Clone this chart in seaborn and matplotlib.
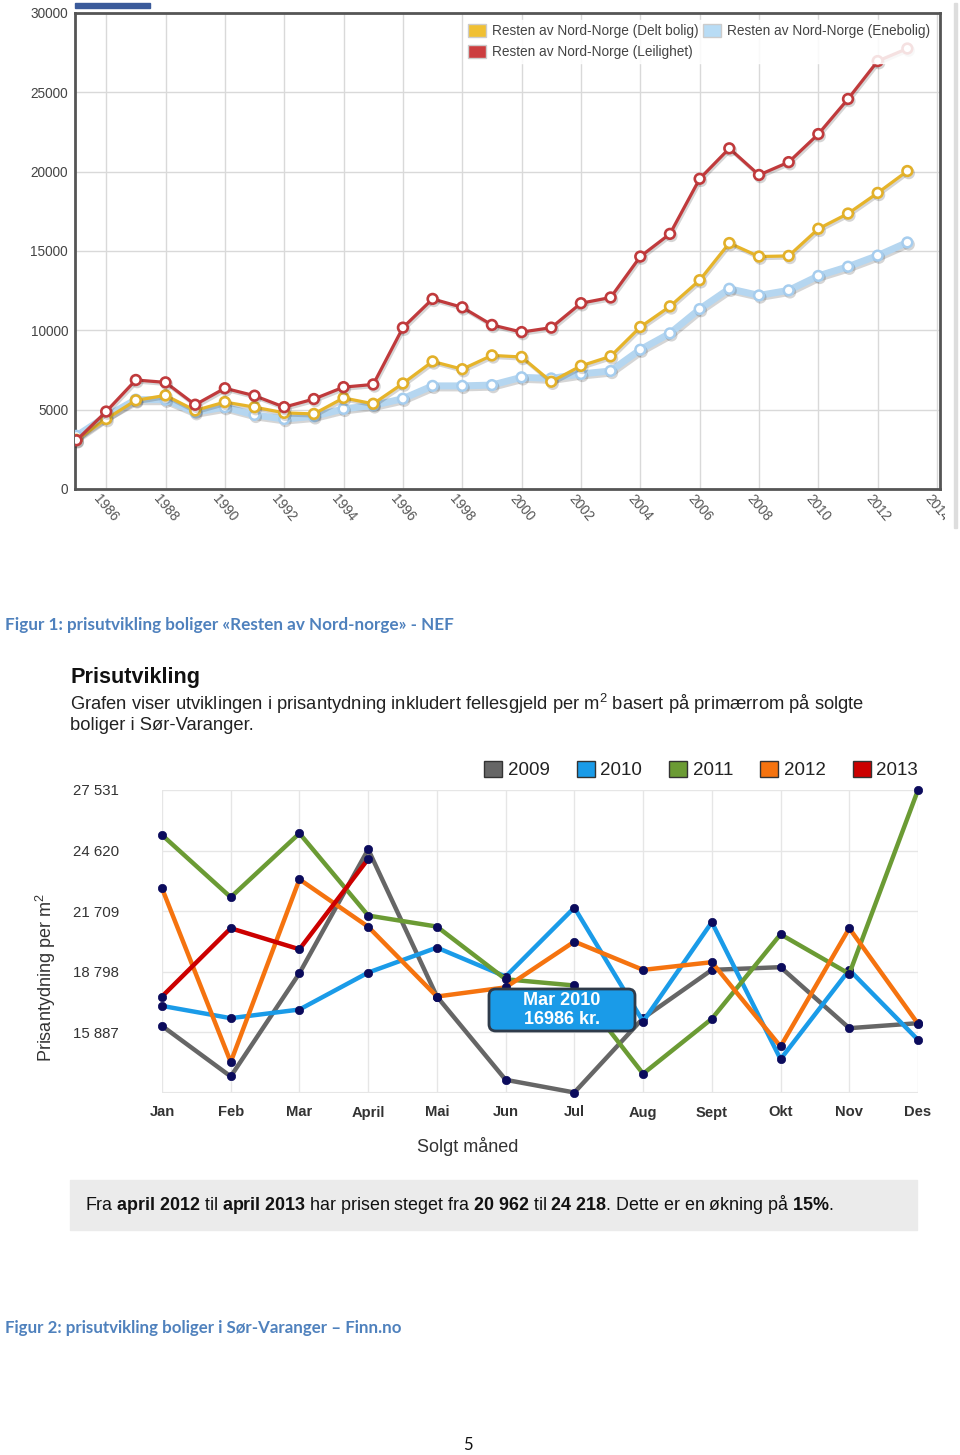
import matplotlib
matplotlib.use("Agg")
import matplotlib.pyplot as plt
import matplotlib.patheffects as pe
from matplotlib.patches import Patch, Rectangle, FancyBboxPatch
from matplotlib.transforms import Bbox, TransformedBbox
import pandas as pd
import seaborn as sns

# ---------------- data: figure 1 (NEF, kr per m2) ----------------
years = list(range(1985, 2014))
delt_bolig = [3100, 4410, 5590, 5900, 4950, 5480, 5160, 4800, 4730, 5740,
              5370, 6650, 8040, 7550, 8420, 8320, 6760, 7760, 8360, 10210,
              11510, 13160, 15500, 14650, 14690, 16400, 17360, 18660, 20040]
enebolig = [3350, 4580, 5630, 5630, 4840, 5160, 4670, 4410, 4580, 5050,
            5270, 5690, 6500, 6500, 6550, 7040, 6970, 7250, 7440, 8780,
            9810, 11340, 12620, 12200, 12520, 13430, 14010, 14710, 15540]
leilighet = [3070, 4880, 6870, 6720, 5310, 6350, 5880, 5160, 5670, 6420,
             6590, 10170, 11980, 11450, 10340, 9890, 10170, 11710, 12070, 14650,
             16080, 19550, 21470, 19790, 20600, 22370, 24580, 26970, 27760]
series1_names = ["Resten av Nord-Norge (Delt bolig)",
                 "Resten av Nord-Norge (Leilighet)",
                 "Resten av Nord-Norge (Enebolig)"]

# ---------------- data: figure 2 (Finn.no, Sør-Varanger) ----------------
months = ["Jan", "Feb", "Mar", "April", "Mai", "Jun", "Jul", "Aug",
          "Sept", "Okt", "Nov", "Des"]
p2009 = [16200, 13770, 18730, 24680, 17610, 13610, 13000, 16570, 18890, 19020, 16090, 16330]
p2010 = [17160, 16570, 16986, 18760, 19960, 18570, 21880, 16410, 21180, 14600, 18890, 15530]
p2011 = [25370, 22380, 25450, 21500, 20970, 18440, 18140, 13900, 16540, 20600, 18700, 27531]
p2012 = [22810, 14460, 23240, 20962, 17610, 18050, 20250, 18890, 19260, 15210, 20890, 16300]
p2013 = [17610, 20890, 19880, 24218]
year_labels = ["2009", "2010", "2011", "2012", "2013"]
y2_ticks = [15887, 18798, 21709, 24620, 27531]
y2_tick_labels = ["15 887", "18 798", "21 709", "24 620", "27 531"]

W, H = 960, 1455


def fx(px):
    return px / W


def fy(py):
    return 1 - py / H


sns.set_theme(style="white")
plt.rcParams["font.family"] = ["Liberation Sans", "DejaVu Sans"]
plt.rcParams["font.sans-serif"] = ["Liberation Sans"]
plt.rcParams["mathtext.fontset"] = "custom"
plt.rcParams["mathtext.rm"] = "Liberation Sans"
plt.rcParams["mathtext.bf"] = "Liberation Sans:bold"

fig = plt.figure(figsize=(W / 100, H / 100), dpi=100)
fig.patch.set_facecolor("white")

# ==================== FIGURE 1 ====================
ax1 = fig.add_axes([fx(75), fy(489), fx(940) - fx(75), fy(13) - fy(489)])
df1 = pd.DataFrame({"year": years, "delt": delt_bolig, "ene": enebolig, "leil": leilighet})

shadow = [pe.SimpleLineShadow(offset=(1, -1.5), alpha=0.18), pe.Normal()]
sns.lineplot(data=df1, x="year", y="ene", ax=ax1, color="#b5d6f0", lw=5,
             marker="o", markersize=7, markerfacecolor="white",
             markeredgecolor="#a6cdee", markeredgewidth=1.8, path_effects=shadow, zorder=3)
sns.lineplot(data=df1, x="year", y="delt", ax=ax1, color="#e6b42a", lw=2.3,
             marker="o", markersize=7, markerfacecolor="white",
             markeredgecolor="#e2b02a", markeredgewidth=1.9, path_effects=shadow, zorder=4)
sns.lineplot(data=df1, x="year", y="leil", ax=ax1, color="#c03a3c", lw=2.3,
             marker="o", markersize=7, markerfacecolor="white",
             markeredgecolor="#c03a3c", markeredgewidth=1.9, path_effects=shadow, zorder=5)

ax1.set_xlim(1984.95, 2014.1)
ax1.set_ylim(0, 30000)
ax1.set_yticks(range(0, 30001, 5000))
ax1.set_xticks(range(1986, 2015, 2))
ax1.grid(True, color="#d9d9d9", lw=1)
ax1.set_xlabel("")
ax1.set_ylabel("")
for s in ax1.spines.values():
    s.set_color("#555555")
    s.set_linewidth(2)
ax1.tick_params(axis="y", length=0, pad=5, labelsize=9.8, labelcolor="#444444")
ax1.tick_params(axis="x", length=0, pad=2, labelsize=9.8, labelcolor="#555555")
clip = TransformedBbox(Bbox([[0, 0], [fx(945), 1]]), fig.transFigure)
for lbl in ax1.get_xticklabels():
    lbl.set_rotation(-50)
    lbl.set_ha("center")
    lbl.set_va("top")
    lbl.set_clip_box(clip)
    lbl.set_clip_on(True)

handles1 = [Patch(facecolor="#f0c033", edgecolor="#cccccc"),
            Patch(facecolor="#cc3d3f", edgecolor="#cccccc"),
            Patch(facecolor="#b8dcf5", edgecolor="#cccccc")]
leg1 = ax1.legend(handles1, series1_names, ncol=2, loc="upper right",
                  bbox_to_anchor=(fx(934), fy(20)), bbox_transform=fig.transFigure,
                  fontsize=9.8, frameon=True, framealpha=0.85, edgecolor="white",
                  handlelength=1.35, handleheight=1.1, handletextpad=0.4,
                  columnspacing=0.35, labelspacing=0.5, borderpad=0.3, borderaxespad=0)
for t in leg1.get_texts():
    t.set_color("#444444")

# cut-off page elements
fig.patches.append(Rectangle((fx(75), fy(8)), fx(150) - fx(75), fy(3) - fy(8),
                             transform=fig.transFigure, color="#3a5a9a", zorder=0))
fig.patches.append(Rectangle((fx(954), fy(528)), fx(3), fy(3) - fy(528),
                             transform=fig.transFigure, color="#dddddd", zorder=0))

cap_color = "#4F81BD"
fig.text(fx(5), fy(625), "Figur 1: prisutvikling boliger «Resten av Nord-norge» - NEF",
         family=["Lato", "DejaVu Sans"], weight="bold", fontsize=12.3, color=cap_color,
         ha="left", va="center")

# ==================== FIGURE 2 ====================
fig.text(fx(70), fy(677), "Prisutvikling", weight="bold", fontsize=15.6,
         color="#111111", ha="left", va="center")
fig.text(fx(70), fy(704),
         "Grafen viser utviklingen i prisantydning inkludert fellesgjeld per m$^2$ basert på primærrom på solgte",
         fontsize=13.2, color="#222222", ha="left", va="center")
fig.text(fx(70), fy(726), "boliger i Sør-Varanger.", fontsize=13.2, color="#222222",
         ha="left", va="center")

ax2 = fig.add_axes([fx(162), fy(1093), fx(918) - fx(162), fy(790) - fy(1093)])
colors2 = ["#666666", "#1a9be8", "#6b9b34", "#f5730f", "#cc0000"]
series2 = [p2009, p2010, p2011, p2012, p2013]
for vals, col in zip(series2, colors2):
    d = pd.DataFrame({"m": range(len(vals)), "v": vals})
    sns.lineplot(data=d, x="m", y="v", ax=ax2, color=col, lw=3.2, marker="o",
                 markersize=6, markerfacecolor="#0b0b5c", markeredgecolor="#0b0b5c",
                 markeredgewidth=0.5, clip_on=False, zorder=3)

ax2.set_xlim(0, len(months) - 1)
ax2.set_ylim(12976, 27531)
ax2.set_xticks(range(len(months)))
ax2.set_xticklabels(months)
ax2.set_yticks(y2_ticks)
ax2.set_yticklabels(y2_tick_labels)
ax2.set_xlabel("")
ax2.set_ylabel("")
ax2.grid(True, color="#e6e6e6", lw=1)
for s in ax2.spines.values():
    s.set_visible(False)
ax2.axhline(12976, color="#e6e6e6", lw=1.5, zorder=0)
ax2.tick_params(axis="y", length=0, pad=31, labelsize=10.8, labelcolor="#333333")
ax2.tick_params(axis="x", length=0, pad=9, labelsize=10.6, labelcolor="#333333")
for lbl in ax2.get_xticklabels():
    lbl.set_fontweight("bold")

handles2 = [Patch(facecolor=c, edgecolor="#333333", lw=1) for c in colors2]
leg2 = ax2.legend(handles2, year_labels, ncol=5, loc="center right",
                  bbox_to_anchor=(fx(918), fy(770)), bbox_transform=fig.transFigure,
                  fontsize=13.5, frameon=False, handlelength=0.95, handleheight=0.95,
                  handletextpad=0.3, columnspacing=1.45, borderpad=0, borderaxespad=0)
for t in leg2.get_texts():
    t.set_color("#222222")

# tooltip
tip = FancyBboxPatch((fx(489), fy(1031)), fx(635) - fx(489), fy(989) - fy(1031),
                     boxstyle="round,pad=0,rounding_size=0.007", mutation_aspect=W / H,
                     transform=fig.transFigure, fc="#1a9be8", ec="#2f3b4a", lw=2, zorder=10)
fig.patches.append(tip)
fig.text(fx(562), fy(1010), "Mar 2010\n16986 kr.", ha="center", va="center",
         fontsize=13, weight="bold", color="white", linespacing=1.15, zorder=11)

fig.text(fx(46), fy(978), "Prisantydning per m$^2$", rotation=90, fontsize=13,
         color="#333333", ha="center", va="center")
fig.text(fx(468), fy(1146), "Solgt måned", fontsize=13, color="#333333",
         ha="center", va="center")

# summary box
fig.patches.append(Rectangle((fx(70), fy(1230)), fx(917) - fx(70), fy(1180) - fy(1230),
                             transform=fig.transFigure, color="#ebebeb", zorder=0))
fig.text(fx(85), fy(1205),
         r"Fra $\mathbf{april\ 2012}$ til $\mathbf{april\ 2013}$ har prisen steget fra "
         r"$\mathbf{20\ 962}$ til $\mathbf{24\ 218}$. Dette er en økning på $\mathbf{15\%}$.",
         fontsize=12.9, color="#111111", ha="left", va="center")

fig.text(fx(5), fy(1328), "Figur 2: prisutvikling boliger i Sør-Varanger – Finn.no",
         family=["Lato", "DejaVu Sans"], weight="bold", fontsize=12.2, color=cap_color,
         ha="left", va="center")

fig.text(fx(468), fy(1445), "5", family=["Lato", "DejaVu Sans"], fontsize=12,
         color="#111111", ha="center", va="center")

fig.savefig("out.png", dpi=100)
